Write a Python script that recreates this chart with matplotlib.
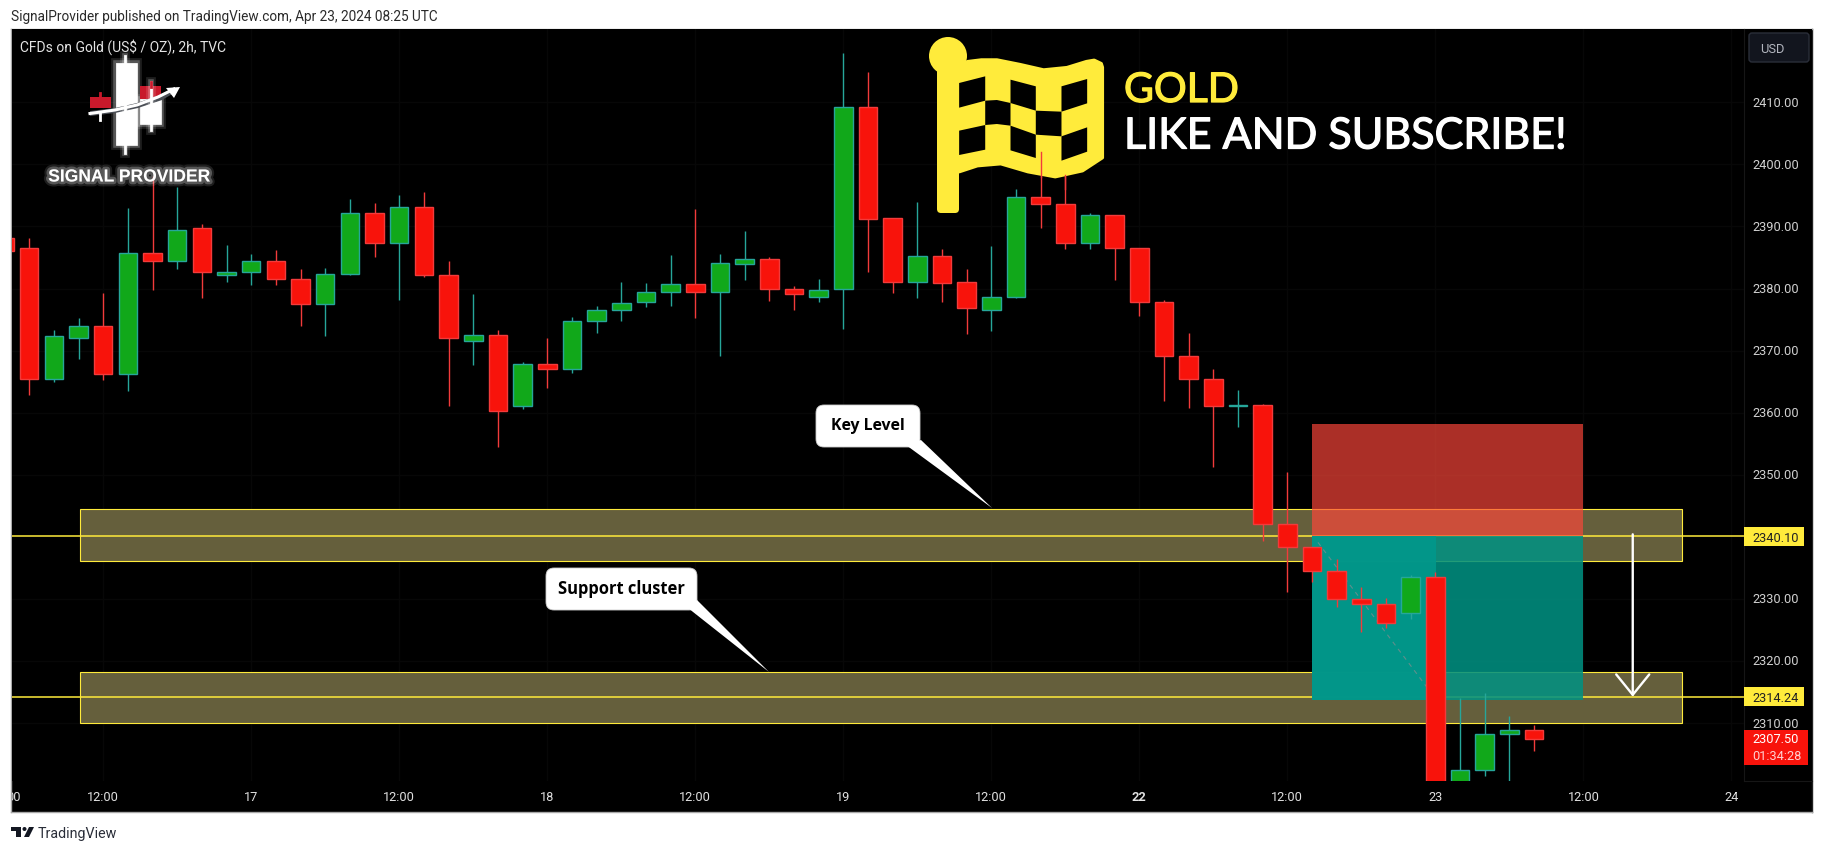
import numpy as np
from matplotlib import pyplot as plt
from matplotlib.patches import Rectangle, Polygon, Circle, FancyBboxPatch
import matplotlib.patheffects as pe

plt.rcParams['font.family'] = ['Roboto', 'DejaVu Sans']

# candle values, first candle is the cut one on the left edge
opens = [2388.2, 2386.6, 2365.5, 2372.1, 2373.9, 2366.2, 2385.8, 2384.5, 2389.7, 2382.1, 2382.6, 2384.5, 2381.6, 2377.5,
         2382.4, 2392.1, 2387.3, 2393.2, 2382.1, 2371.5, 2372.5, 2361.1, 2367.8, 2367.1, 2374.7, 2376.6, 2377.8, 2379.5,
         2380.8, 2379.5, 2384.0, 2384.7, 2380.0, 2378.6, 2379.9, 2409.2, 2391.3, 2381.1, 2385.2, 2381.0, 2376.6, 2378.7,
         2394.7, 2393.6, 2387.4, 2391.8, 2386.5, 2377.9, 2369.2, 2365.4, 2361.0, 2361.2, 2342.0, 2338.3, 2334.5, 2329.9,
         2329.1, 2327.8, 2333.6, 2298.0, 2302.4, 2308.2, 2308.8]
closes = [2386.1, 2365.5, 2372.3, 2373.9, 2366.2, 2385.7, 2384.5, 2389.5, 2382.6, 2382.6, 2384.5, 2381.6, 2377.5, 2382.3,
          2392.1, 2387.3, 2393.2, 2382.1, 2372.0, 2372.5, 2360.2, 2367.8, 2367.1, 2374.7, 2376.6, 2377.6, 2379.5, 2380.8,
          2379.5, 2384.1, 2384.7, 2380.0, 2379.1, 2379.7, 2409.2, 2391.2, 2381.1, 2385.3, 2380.9, 2376.8, 2378.7, 2394.7,
          2393.6, 2387.4, 2391.8, 2386.5, 2377.9, 2369.2, 2365.4, 2361.0, 2361.1, 2342.0, 2338.3, 2334.5, 2329.9, 2329.1,
          2326.1, 2333.6, 2298.0, 2302.4, 2308.2, 2308.8, 2307.5]
highs = [2388.4, 2388.1, 2373.3, 2375.3, 2379.3, 2393.0, 2398.2, 2396.3, 2390.4, 2387.0, 2385.6, 2386.2, 2383.1, 2383.3,
         2394.4, 2393.8, 2395.1, 2395.6, 2384.4, 2379.1, 2373.3, 2368.1, 2372.0, 2375.4, 2377.2, 2381.1, 2380.9, 2385.4,
         2392.8, 2385.6, 2389.3, 2385.1, 2380.4, 2381.5, 2418.0, 2414.9, 2391.3, 2393.9, 2386.4, 2383.1, 2386.9, 2396.0,
         2402.0, 2398.3, 2392.2, 2391.8, 2386.5, 2378.2, 2372.8, 2367.0, 2363.7, 2361.4, 2350.4, 2338.3, 2336.4, 2331.9,
         2330.1, 2333.9, 2334.3, 2314.1, 2314.8, 2311.1, 2309.7]
lows = [2385.0, 2362.9, 2365.0, 2368.7, 2365.2, 2363.5, 2379.7, 2383.2, 2378.4, 2381.1, 2380.6, 2380.6, 2374.0, 2372.4,
        2382.2, 2385.0, 2378.2, 2381.8, 2361.0, 2367.6, 2354.5, 2360.6, 2363.9, 2366.4, 2372.9, 2374.8, 2377.1, 2377.2,
        2375.3, 2369.2, 2381.4, 2378.0, 2376.6, 2377.9, 2373.5, 2382.7, 2379.3, 2378.5, 2377.9, 2372.7, 2373.1, 2378.4,
        2389.8, 2386.4, 2386.3, 2381.3, 2375.6, 2361.8, 2360.8, 2351.2, 2357.7, 2339.4, 2331.1, 2332.7, 2328.7, 2324.6,
        2325.3, 2326.7, 2296.0, 2296.0, 2301.5, 2298.0, 2305.5]
bar_index = np.arange(-1, 62)

price_ticks = [2410, 2400, 2390, 2380, 2370, 2360, 2350, 2330, 2320, 2310]
time_pos = [-0.62, 3, 9, 15, 21, 27, 33, 39, 45, 51, 57, 63, 69]
time_labels = ['00', '12:00', '17', '12:00', '18', '12:00', '19', '12:00', '22', '12:00', '23', '12:00', '24']

level_key = 2340.10
level_support = 2314.24
last_price = 2307.50
key_band = (2336.1, 2344.4)
support_band = (2310.0, 2318.2)
band_bars = (2.04, 67.0)
pos_bars = (52.0, 57.04, 63.0)
pos_stop = 2358.2
pos_entry = 2340.2
pos_target = 2313.7

RED = '#f8130b'
RED_LINE = '#f23b3b'
GREEN = '#11a81a'
GREEN_LINE = '#26a69a'
YELLOW = '#ffeb3b'
W, H = 1824, 853


def axes_px(x0, y0, x1, y1):
    return fig.add_axes([x0 / W, 1 - y1 / H, (x1 - x0) / W, (y1 - y0) / H])


fig = plt.figure(figsize=(W / 100, H / 100), dpi=100, facecolor='white')

# black panel behind everything
back = axes_px(11.5, 30, 1812, 813)
back.set_facecolor('black')
back.set_xticks([])
back.set_yticks([])
for s in back.spines.values():
    s.set_color('#a8a8a8')
    s.set_linewidth(1)
back.spines['right'].set_color('#222222')

ax = axes_px(12, 30, 1744, 781.5)
ax.set_facecolor('black')
ax.set_xlim(-0.697, 69.51)
ax.set_ylim(2300.74, 2421.81)
ax.set_xticks([])
ax.set_yticks([])
for s in ax.spines.values():
    s.set_visible(False)

for t in time_pos[1:]:
    ax.axvline(t, color='#070707', lw=1, zorder=0)
for p in price_ticks:
    ax.axhline(p, color='#070707', lw=1, zorder=0)

# zones
for low, high in (key_band, support_band):
    ax.add_patch(Rectangle((band_bars[0], low), band_bars[1] - band_bars[0], high - low,
                           facecolor='#655f3c', edgecolor=YELLOW, lw=0.8, zorder=1))
ax.axhline(level_key, color=YELLOW, lw=1.1, zorder=1.5)
ax.axhline(level_support, color=YELLOW, lw=1.1, zorder=1.5)

# short position box
ax.add_patch(Rectangle((pos_bars[0], pos_entry), pos_bars[2] - pos_bars[0], pos_stop - pos_entry,
                       facecolor='#ff473a', alpha=0.675, lw=0, zorder=2))
ax.add_patch(Rectangle((pos_bars[0], pos_target), pos_bars[2] - pos_bars[0], pos_entry - pos_target,
                       facecolor='#019182', alpha=0.87, lw=0, zorder=2))
ax.add_patch(Rectangle((pos_bars[0], pos_target), pos_bars[1] - pos_bars[0], pos_entry - pos_target,
                       facecolor='#02978a', alpha=0.96, lw=0, zorder=2.1))
ax.plot([52.24, 56.65], [2339.1, 2315.8], color='#5f8f8c', lw=0.8, ls=(0, (4, 4)), zorder=2.2)

# candles
for i, o, c, h, l in zip(bar_index, opens, closes, highs, lows):
    up = c >= o
    line = GREEN_LINE if up else RED_LINE
    ax.vlines(i, l, h, color=line, lw=1, zorder=3)
    ax.bar(i, max(abs(c - o), 0.25), bottom=min(o, c), width=0.75, color=GREEN if up else RED,
           edgecolor=line, linewidth=1, zorder=3.5)

# measure arrow
ax.annotate('', xy=(65, level_support), xytext=(65, 2340.4), zorder=4,
            arrowprops=dict(arrowstyle='->,head_length=1.05,head_width=0.85', color='white', lw=1.7,
                            shrinkA=0, shrinkB=0, mutation_scale=14))

# time axis
ax_t = axes_px(12, 781.5, 1744, 813)
ax_t.set_xlim(ax.get_xlim())
ax_t.set_ylim(0, 1)
ax_t.axis('off')
for t, lab in zip(time_pos, time_labels):
    ax_t.text(t, 0.5, lab, ha='center', va='center', color='#e0e0e0', fontsize=9.2, clip_on=True,
              fontweight='bold' if lab == '22' else 'normal')

# price axis
ax_p = axes_px(1744, 30, 1812, 781.5)
ax_p.set_xlim(0, 68)
ax_p.set_ylim(ax.get_ylim())
ax_p.set_xticks([])
ax_p.set_yticks([])
ax_p.set_facecolor('black')
for s in ax_p.spines.values():
    s.set_visible(False)
ax_p.spines['left'].set_visible(True)
ax_p.spines['left'].set_color('#161616')
ax_p.spines['bottom'].set_visible(True)
ax_p.spines['bottom'].set_color('#161616')
for p in price_ticks:
    ax_p.text(32, p, '%.2f' % p, ha='center', va='center', color='#d0d0d0', fontsize=9.2)
for p in (level_key, level_support):
    ax_p.add_patch(Rectangle((0, p - 1.55), 60, 3.1, facecolor=YELLOW, lw=0, zorder=3))
    ax_p.text(32, p - 0.15, '%.2f' % p, ha='center', va='center', color='#222222', fontsize=9.2, zorder=4)
ax_p.add_patch(Rectangle((0, 2303.2), 64, 5.7, facecolor=RED, lw=0, zorder=3))
ax_p.text(32, last_price - 0.05, '%.2f' % last_price, ha='center', va='center', color='white', fontsize=9.2, zorder=4)
ax_p.text(33, 2304.8, '01:34:28', ha='center', va='center', color='#ffd0d0', fontsize=9.2, zorder=4)

# overlay in plain pixels for the drawn stuff and text around the chart
ov = fig.add_axes([0, 0, 1, 1], facecolor='none')
ov.set_xlim(0, W)
ov.set_ylim(H, 0)
ov.axis('off')

ov.text(11, 17, 'SignalProvider published on TradingView.com, Apr 23, 2024 08:25 UTC', color='#2a2a2a',
        fontsize=9.85, va='center', ha='left')
ov.text(20, 47, 'CFDs on Gold (US$ / OZ), 2h, TVC', color='#e4e4e4', fontsize=10, va='center', ha='left')

# USD button
ov.add_patch(FancyBboxPatch((1752, 37), 54, 23, boxstyle='round,pad=3', facecolor='#12151e', edgecolor='#2a2e39', lw=1))
ov.text(1760, 49, 'USD', color='#b2b5be', fontsize=9.3, va='center', ha='left')

# tradingview mark
ov.add_patch(Polygon([(11, 828), (21, 828), (21, 838), (16, 838), (16, 832), (11, 832)], facecolor='#131722', lw=0))
ov.add_patch(Circle((24.5, 830), 2, facecolor='#131722', lw=0))
ov.add_patch(Polygon([(29, 828), (34, 828), (29, 838), (24, 838)], facecolor='#131722', lw=0))
ov.text(38, 834, 'TradingView', color='#2a2e39', fontsize=10.3, va='center', ha='left')

# signal provider logo, glow is just wide see-through strokes under the shape
glow = [pe.Stroke(linewidth=7, foreground='white', alpha=0.12), pe.Stroke(linewidth=4, foreground='white', alpha=0.25), pe.Normal()]
for (x0, y0, x1, y1), wick in (((115.6, 64, 136.6, 146), (125.3, 57, 154)), ((140.5, 100, 161.5, 125), (151, 83, 131))):
    ov.plot([wick[0], wick[0]], [wick[1], wick[2]], color='white', lw=2, path_effects=glow)
    ov.add_patch(Rectangle((x0, y0), x1 - x0, y1 - y0, facecolor='white', edgecolor='white', lw=0.5, path_effects=glow))
ov.add_patch(Rectangle((140.5, 87), 21, 13, facecolor='#c8192b', lw=0))
ov.plot([151, 151], [83, 88], color='#c8192b', lw=2)
ov.add_patch(Rectangle((90, 98), 21, 11, facecolor='#c8192b', lw=0))
ov.plot([100.4, 100.4], [94, 99], color='#c8192b', lw=2)
ov.plot([100.4, 100.4], [114, 121], color='white', lw=2)
ov.add_patch(Polygon([(90, 112), (115, 109), (137, 104), (160, 96), (172, 91), (174, 94), (162, 101), (138, 109),
                      (115, 114), (90, 117)], facecolor='#4a4e55', lw=0))
ov.plot([90, 115, 137, 158, 174], [114.5, 111, 106, 98, 90], color='white', lw=2.2)
ov.add_patch(Polygon([(166, 89), (180, 88), (174, 99)], facecolor='white', lw=0))
ov.text(129, 178, 'SIGNAL PROVIDER', color='white', fontsize=12.6, fontweight='bold', family='Liberation Sans',
        ha='center', va='center', zorder=5, path_effects=glow)


def flag(pts):
    # outline, x squeezed on the zoomed crop
    return [(600 + x / 2.57, y / 3) for x, y in pts]


ov.add_patch(Circle((948, 57), 19, facecolor=YELLOW, lw=0))
ov.add_patch(FancyBboxPatch((941, 60), 14, 150, boxstyle='round,pad=4', facecolor=YELLOW, lw=0))
ov.add_patch(Polygon(flag([(923, 200), (945, 188), (980, 183), (1020, 183), (1080, 197), (1140, 213), (1200, 206), (1250, 188),
                           (1270, 184), (1288, 194), (1291, 205), (1291, 476), (1240, 515), (1170, 533), (1100, 518),
                           (1030, 494), (970, 500), (923, 518)]), facecolor=YELLOW, edgecolor=YELLOW, lw=2.5, joinstyle='round'))
holes = [
    [(923, 252), (990, 232), (990, 305), (923, 326)],
    [(1055, 242), (1120, 262), (1120, 335), (1055, 312)],
    [(1186, 262), (1252, 240), (1252, 313), (1186, 338)],
    [(990, 305), (1020, 303), (1055, 312), (1055, 380), (1020, 375), (990, 378)],
    [(1120, 335), (1186, 338), (1186, 412), (1120, 407)],
    [(923, 395), (990, 378), (990, 452), (923, 468)],
    [(1055, 380), (1120, 407), (1120, 477), (1055, 454)],
    [(1186, 412), (1252, 385), (1252, 458), (1186, 485)],
]
for h in holes:
    ov.add_patch(Polygon(flag(h), facecolor='black', lw=0))
# the two wicks that run over the flag
ax_over = [(41, 2402.0, 2398.0), (42, 2398.3, 2396.0)]
for i, top, bottom in ax_over:
    px = 29.2 + 24.67 * i
    ov.plot([px, px], [103.3 + (2410 - top) * 6.207, 103.3 + (2410 - bottom) * 6.207], color=RED_LINE, lw=1)

bold_edge = [pe.withStroke(linewidth=0.9, foreground='white')]
ov.text(1124, 91.5, 'GOLD', color=YELLOW, fontsize=29.5, family='Lato', va='center', ha='left',
        path_effects=[pe.withStroke(linewidth=0.9, foreground=YELLOW)])
ov.text(1124, 137.5, 'LIKE AND SUBSCRIBE!', color='white', fontsize=31, family='Lato', va='center', ha='left',
        path_effects=bold_edge)

# callouts
ov.add_patch(FancyBboxPatch((824, 414), 88, 26, boxstyle='round,pad=8', facecolor='white', edgecolor='#cccccc', lw=0.6))
ov.add_patch(Polygon([(906, 446), (921, 441), (992, 509)], facecolor='white', lw=0))
ov.text(868, 426, 'Key Level', color='black', fontsize=11.4, fontweight='bold', family='Open Sans', ha='center', va='center')
ov.add_patch(FancyBboxPatch((554, 577), 135, 26, boxstyle='round,pad=8', facecolor='white', edgecolor='#cccccc', lw=0.6))
ov.add_patch(Polygon([(688, 609), (697, 601), (769, 673)], facecolor='white', lw=0))
ov.text(621, 589, 'Support cluster', color='black', fontsize=11.9, fontweight='bold', family='Open Sans', ha='center', va='center')

fig.savefig('out.png', dpi=100, facecolor='white')
